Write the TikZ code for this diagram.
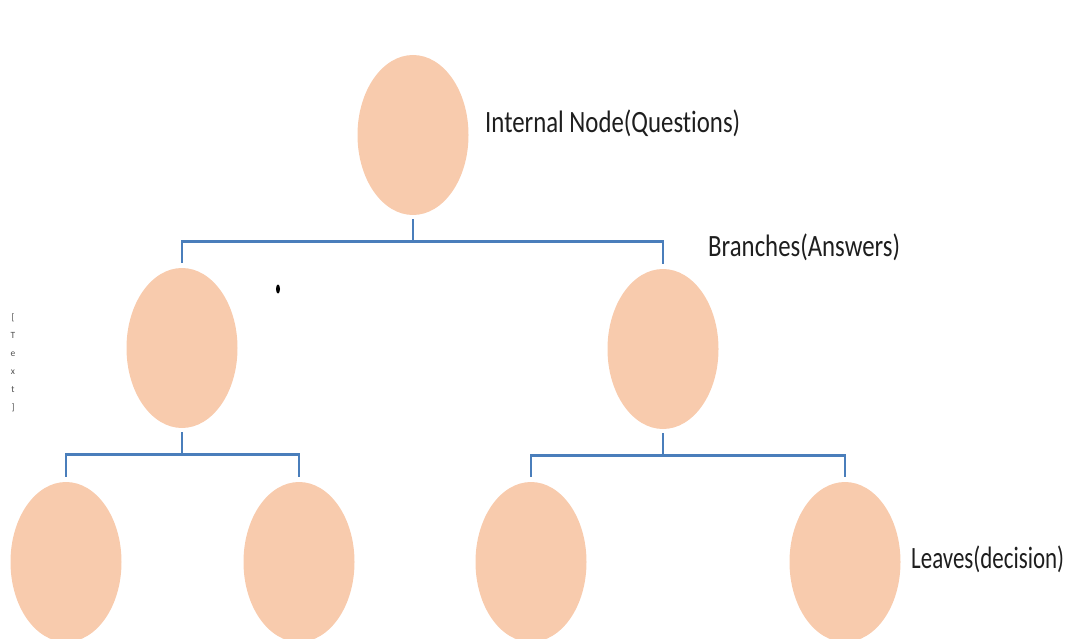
\documentclass[tikz,border=0pt]{standalone}
\usepackage{fontspec}
\setmainfont{Carlito}[Ligatures=NoCommon]
\usetikzlibrary{shapes.geometric}
\definecolor{peach}{HTML}{F8CBAD}
\definecolor{branchblue}{HTML}{4A7EBB}
\definecolor{labelgray}{HTML}{1E1E1E}
\definecolor{notegray}{HTML}{505050}
\tikzset{
  treenode/.style={ellipse, fill=peach, draw=none, inner sep=0pt,
    minimum width=111pt, minimum height=160pt},
  branch/.style={draw=branchblue, line width=2.6pt, line cap=butt, line join=miter},
  caption/.style={anchor=base west, inner sep=0pt, text=labelgray,
    font=\fontsize{31}{36}\selectfont},
}
\newcommand{\narrow}[2]{\scalebox{#1}[1]{#2}}
\begin{document}
\begin{tikzpicture}[x=1pt, y=-1pt]
  \useasboundingbox (0,0) rectangle (1065,639);

  % tree nodes
  \node[treenode] (root) at (413,135) {};
  \node[treenode] (midL) at (182,348) {};
  \node[treenode] (midR) at (663,349) {};
  \node[treenode] (leafA) at (66,562) {};
  \node[treenode] (leafB) at (299,562) {};
  \node[treenode] (leafC) at (531,562) {};
  \node[treenode] (leafD) at (845,562) {};

  % branches
  \draw[branch] ([yshift=-4pt]root.south) -- ++(0,22) coordinate (j0);
  \draw[branch] ([yshift=5pt]midL.north) |- (j0) -| ([yshift=5pt]midR.north);

  \draw[branch] ([yshift=-4pt]midL.south) -- ++(0,22) coordinate (j1);
  \draw[branch] ([yshift=5pt]leafA.north) |- (j1) -| ([yshift=5pt]leafB.north);

  \draw[branch] ([yshift=-4pt]midR.south) -- ++(0,22) coordinate (j2);
  \draw[branch] ([yshift=5pt]leafC.north) |- (j2) -| ([yshift=5pt]leafD.north);

  % labels
  \node[caption] (qlabel) at (485,133) {\narrow{0.80}{Internal Node(Questions)}};
  \node[caption] (alabel) at (708,256) {\narrow{0.80}{Branches(Answers)}};
  \node[caption] (dlabel) at (911,568) {\narrow{0.74}{Leaves(decision)}};

  % vertical placeholder text
  \node[align=center, inner sep=0pt, text=notegray,
    font=\fontsize{9.5}{18}\selectfont] (placeholder) at (13,363)
    {[\\T\\e\\x\\t\\]};

  % stray dot
  \fill[black] (278,289) ellipse [x radius=2, y radius=4.5];
\end{tikzpicture}
\end{document}
